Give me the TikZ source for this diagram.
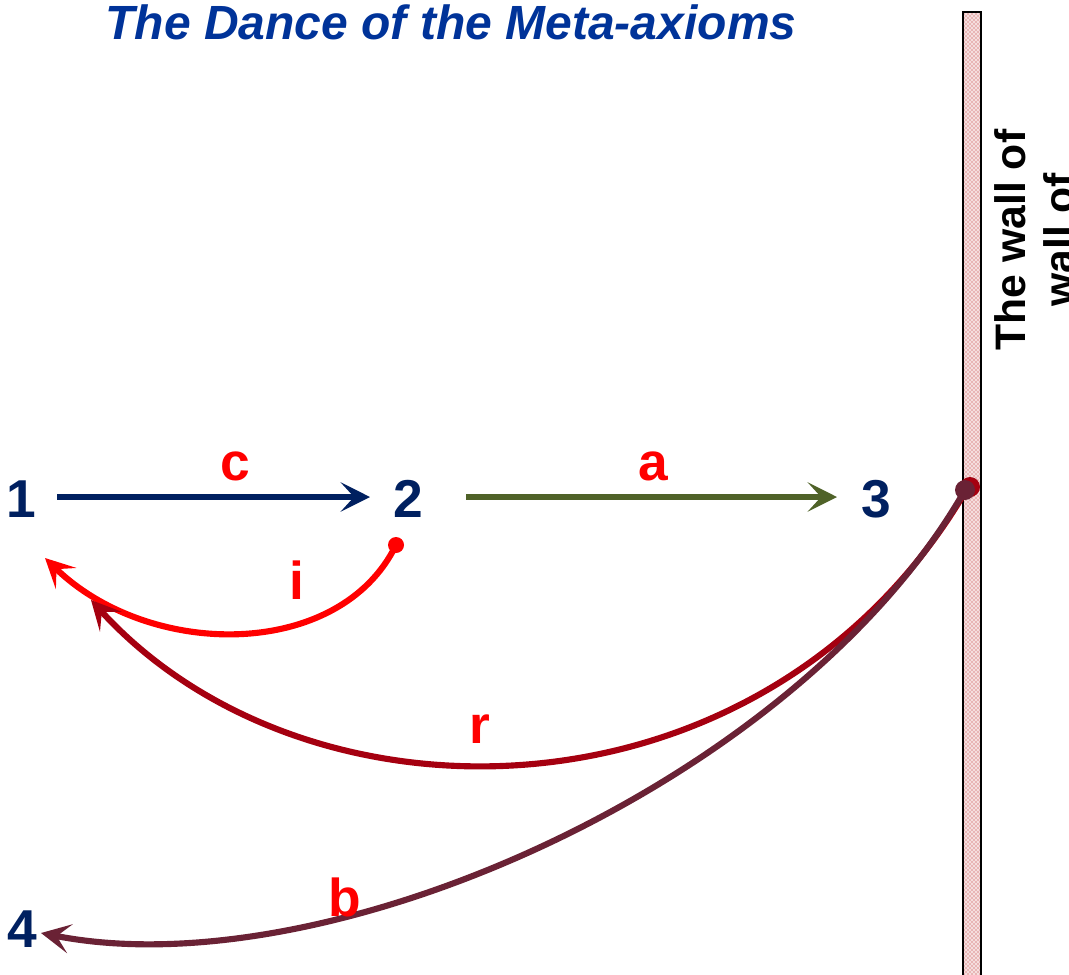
\documentclass[tikz,border=0pt]{standalone}
\usepackage{fontspec}
\setmainfont{Liberation Sans}
\usetikzlibrary{arrows.meta,patterns}
\definecolor{navyd}{RGB}{0,32,96}
\definecolor{titleblue}{RGB}{0,51,153}
\definecolor{oliveg}{RGB}{79,98,40}
\definecolor{rred}{RGB}{165,0,16}
\definecolor{bmar}{RGB}{106,34,53}
\definecolor{wallpink}{RGB}{245,222,222}
\definecolor{walldot}{RGB}{190,50,50}
\begin{document}
\begin{tikzpicture}[x=0.75pt,y=-0.75pt,
  num/.style={text=navyd,font=\fontsize{40}{48}\selectfont\bfseries,anchor=base,inner sep=0pt},
  lab/.style={text=red,font=\fontsize{40}{48}\selectfont\bfseries,anchor=base,inner sep=0pt},
  conn/.style={line width=4.6pt,-{Stealth[length=22pt,width=22pt,inset=10pt]}},
  startdot/.style={circle,inner sep=0pt,minimum size=#1}]
\clip (0,0) rectangle (1069,974);
% title
\node[text=titleblue,font=\fontsize{36}{40}\selectfont\bfseries\itshape,anchor=base,inner sep=0pt] (title) at (451,40) {The Dance of the Meta-axioms};
% wall
\fill[wallpink] (963,12) rectangle (981,990);
\fill[pattern=crosshatch dots,pattern color=walldot] (963,12) rectangle (981,990);
\draw[line width=2pt] (963,12) rectangle (981,990);
\node[rotate=90,anchor=base,inner sep=0pt,font=\fontsize{32}{38}\selectfont\bfseries] (wall1) at (1025,240) {The wall of};
\node[rotate=90,anchor=base,inner sep=0pt,font=\fontsize{32}{38}\selectfont\bfseries] (wall2) at (1074,240) {wall of};
% numbers
\node[num] (n1) at (21,517) {1};
\node[num] (n2) at (408,517) {2};
\node[num] (n3) at (876,517) {3};
\node[num] (n4) at (22,947) {4};
% coordinates
\coordinate (c0) at (57,497);
\coordinate (c1) at (370,497);
\coordinate (a0) at (466,497);
\coordinate (a1) at (837,497);
\coordinate (i0) at (396,545);
\coordinate (i1) at (45,558);
\coordinate (r0) at (968,487);
\coordinate (r1) at (91,600);
\coordinate (b0) at (965,490);
\coordinate (b1) at (41,933);
% arrows
\draw[conn,navyd] (c0) -- (c1);
\draw[conn,oliveg] (a0) -- (a1);
\draw[conn,red] (i0) .. controls (340,660) and (150,660) .. (i1);
\draw[conn,rred] (r0) .. controls (770,830) and (310,840) .. (r1);
\draw[conn,bmar] (b0) .. controls (800,780) and (330,990) .. (b1);
\node[startdot=12pt,fill=red] (idot) at (i0) {};
\node[startdot=15pt,fill=rred] (rdot) at (970,487) {};
\node[startdot=15pt,fill=bmar] (bdot) at (b0) {};
% labels
\node[lab] (lc) at (235,480) {c};
\node[lab] (la) at (653,480) {a};
\node[lab] (li) at (297,599) {i};
\node[lab] (lr) at (480,743) {r};
\node[lab] (lb) at (345,916) {b};
\end{tikzpicture}
\end{document}
